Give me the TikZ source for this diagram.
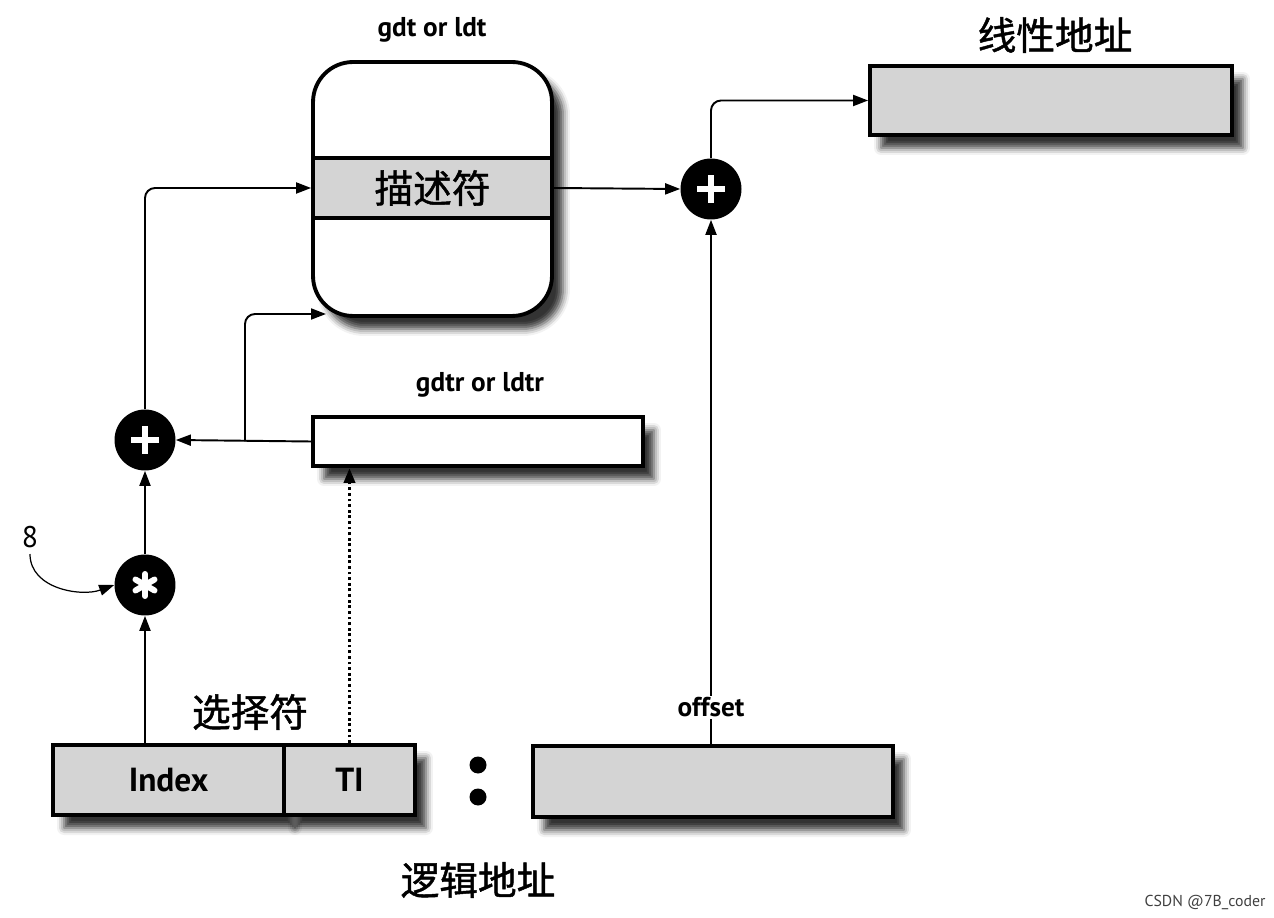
\documentclass[tikz,border=0pt]{standalone}
\usepackage{fontspec}
\setsansfont{PT Sans}
\newfontfamily\cjk[FakeBold=1.2]{Noto Sans CJK SC}
\usepackage{tikz}
\usetikzlibrary{arrows.meta,calc,positioning,shadows,shadows.blur}
\definecolor{boxgray}{RGB}{212,212,212}

\begin{document}
\begin{tikzpicture}[x=0.02cm, y=-0.02cm, font=\sffamily,
    box/.style={draw, line width=2.2pt, fill=boxgray, inner sep=0pt},
    shade/.style={blur shadow={shadow xshift=0.22cm, shadow yshift=-0.26cm, shadow opacity=80, shadow blur radius=0.14cm}},
    arr/.style={line width=1.1pt, -{Triangle[length=0.3cm,width=0.22cm]}},
    op/.style={circle, fill=black, minimum size=1.22cm, inner sep=0pt},
    plus/.style={op, path picture={
        \draw[white, line width=3.6pt] ([xshift=-0.28cm]path picture bounding box.center) -- ([xshift=0.28cm]path picture bounding box.center)
            ([yshift=-0.28cm]path picture bounding box.center) -- ([yshift=0.28cm]path picture bounding box.center);}},
    star/.style={op, path picture={
        \foreach \a in {90,30,150}
            \draw[white, line width=3.4pt, line cap=round] ([shift={(\a:0.22cm)}]path picture bounding box.center) -- ([shift={(\a+180:0.22cm)}]path picture bounding box.center);}},
    lbl/.style={font=\sffamily\bfseries\fontsize{15.5}{17}\selectfont},
    zh/.style={font=\cjk\fontsize{22}{24}\selectfont}]
    \useasboundingbox (0,0) rectangle (1274,918);

    \node[draw, line width=2.2pt, fill=white, rounded corners=0.8cm, minimum width=4.78cm, minimum height=5.08cm, shade] (gdt) at (432.5,189) {};
    \node[box, minimum width=4.78cm, minimum height=1.2cm, zh] (desc) at (432.5,188) {描述符};
    \node[lbl] (gdtlbl) at (432,30) {gdt or ldt};

    \node[box, minimum width=7.24cm, minimum height=1.38cm, shade] (lin) at (1051,100.5) {};
    \node[zh] (linlbl) at (1055,35) {线性地址};
    \node[plus] (addB) at (711,189) {};

    \node[box, fill=white, minimum width=6.6cm, minimum height=0.98cm, shade] (gdtr) at (478,441.5) {};
    \node[lbl] (gdtrlbl) at (480,385) {gdtr or ldtr};
    \node[plus] (addA) at (145,440) {};
    \node[star] (mul) at (145,585) {};
    \node[font=\sffamily\fontsize{17}{19}\selectfont] (eight) at (30,537) {8};

    \node[box, minimum width=4.62cm, minimum height=1.4cm, shade, font=\sffamily\bfseries\fontsize{19}{21}\selectfont] (idx) at (168.5,780) {Index};
    \node[box, minimum width=2.62cm, minimum height=1.4cm, shade, font=\sffamily\bfseries\fontsize{19}{21}\selectfont] (ti) at (349.5,780) {TI};
    \node[zh] (sellbl) at (250,712) {选择符};
    \node[box, minimum width=7.2cm, minimum height=1.42cm, shade] (off) at (713,781.5) {};
    \fill (478,765) circle (0.17cm);
    \fill (478,797) circle (0.17cm);
    \node[zh] (loglbl) at (478,880) {逻辑地址};

    \coordinate (br) at (245,441.5);
    \coordinate (gdtin) at (326,314);

    \draw[arr] (desc.east) -- (addB.west);
    \draw[arr, rounded corners=0.2cm] (addB.north) |- (lin.west);
    \draw[arr] (off.north -| addB) -- (addB.south) node[pos=0.07, fill=white, inner sep=1pt, lbl] (offlbl) {offset};
    \draw[arr] (gdtr.west) -- (addA.east);
    \draw[arr, rounded corners=0.2cm] (br) |- (gdtin);
    \draw[arr, rounded corners=0.2cm] (addA.north) |- (desc.west);
    \draw[arr] (mul.north) -- (addA.south);
    \draw[arr] (mul |- idx.north) -- (mul.south);
    \draw[arr, line width=2pt, dash pattern=on 1.6pt off 1.6pt] (ti.north) -- (ti.north |- gdtr.south);
    \draw[arr, line width=0.7pt] (eight.south) to[out=-90, in=200] (mul.west);

    \node[font=\sffamily\fontsize{9}{10}\selectfont, text=black!75] (mark) at (1205,902) {CSDN @7B\_coder};
\end{tikzpicture}
\end{document}
